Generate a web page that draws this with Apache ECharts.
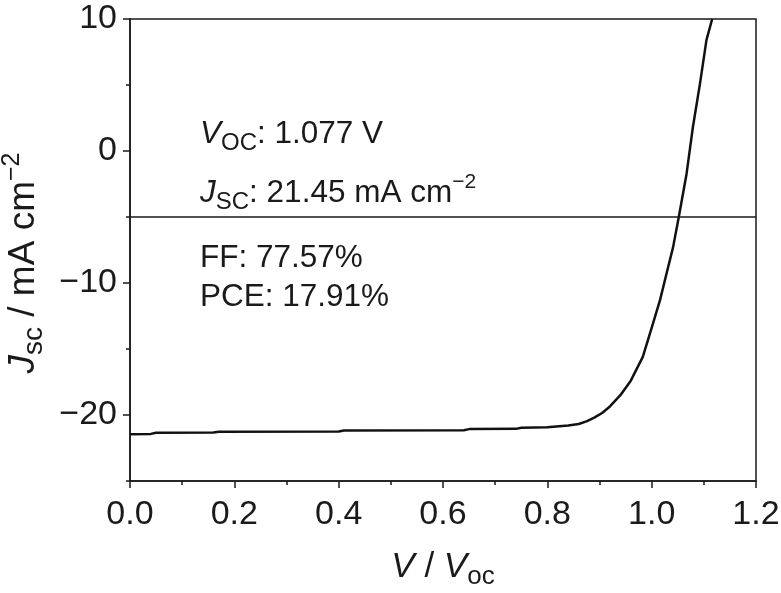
<!DOCTYPE html>
<html>
<head>
<meta charset="utf-8">
<script src="https://cdn.jsdelivr.net/npm/echarts@6/dist/echarts.min.js"></script>
<style>html,body{margin:0;padding:0;background:#fff;}#chart{width:781px;height:593px;}</style>
</head>
<body>
<div id="chart"></div>
<script>
// V / Voc values
const voltage = [0, 0.04, 0.05, 0.16, 0.17, 0.40, 0.41, 0.64, 0.65, 0.74, 0.75, 0.80, 0.84, 0.86, 0.875, 0.89, 0.905, 0.92, 0.94, 0.96, 0.983, 1.0, 1.016, 1.029, 1.041, 1.052, 1.067, 1.079, 1.093, 1.105, 1.116];
// current density (mA cm^-2)
const current = [-21.45, -21.43, -21.35, -21.33, -21.27, -21.25, -21.17, -21.15, -21.07, -21.05, -20.97, -20.93, -20.8, -20.68, -20.48, -20.2, -19.85, -19.35, -18.5, -17.4, -15.6, -13.4, -11.3, -9.2, -7.3, -5.0, -1.7, 1.8, 5.2, 8.4, 10.0];
const refLineY = -5;
const yTickLabels = [10, 0, -10, -20];
const xTickLabels = [0.0, 0.2, 0.4, 0.6, 0.8, 1.0, 1.2];
const annotations = [
  '{i|V}{sub|OC}: 1.077 V',
  '{i|J}{sub|SC}: 21.45 mA cm{sup|−2}',
  'FF: 77.57%',
  'PCE: 17.91%'
];

const FONT = '"Liberation Sans", Arial, Helvetica, sans-serif';
const INK = '#1a1a1a';
const chart = echarts.init(document.getElementById('chart'), null, {renderer: 'canvas'});

const series = voltage.map((v, i) => [v, current[i]]);

const annTop = [134, 193, 258, 297];
const graphics = annotations.map((t, i) => ({
  type: 'text', left: 200, top: annTop[i] - 21, silent: true,
  style: {
    text: t, fill: INK, fontFamily: FONT, fontSize: 31.5, lineHeight: 42,
    rich: {
      i: {fontStyle: 'italic', fontSize: 31.5, fontFamily: FONT, fill: INK},
      sub: {fontSize: 24, fontFamily: FONT, verticalAlign: 'bottom', lineHeight: 42, fill: INK},
      sup: {fontSize: 21, fontFamily: FONT, verticalAlign: 'top', lineHeight: 42, fill: INK}
    }
  }
}));

chart.setOption({
  animation: false,
  backgroundColor: '#fff',
  grid: {left: 130, right: 25, top: 19, bottom: 112, containLabel: false, outerBoundsMode: 'none',
    show: true, borderColor: INK, borderWidth: 1.5, backgroundColor: 'transparent'},
  xAxis: {
    type: 'value', min: 0, max: 1.2, interval: 0.2,
    name: '{i|V} / {i|V}{sub|oc}', nameLocation: 'middle', nameGap: 63,
    nameTextStyle: {
      color: INK, fontFamily: FONT, fontSize: 35, lineHeight: 46,
      rich: {
        i: {fontStyle: 'italic', fontSize: 35, fontFamily: FONT, color: INK},
        sub: {fontSize: 26, fontFamily: FONT, verticalAlign: 'bottom', lineHeight: 46, color: INK}
      }
    },
    axisLine: {show: true, onZero: false, lineStyle: {color: INK, width: 1.5}},
    axisTick: {show: true, inside: false, length: 7, lineStyle: {color: INK, width: 1.5}},
    minorTick: {show: true, splitNumber: 2, length: 4, lineStyle: {color: INK, width: 1.5}},
    axisLabel: {color: INK, fontFamily: FONT, fontSize: 34, margin: 17,
      formatter: v => (xTickLabels.some(t => Math.abs(t - v) < 1e-6) ? v.toFixed(1) : '')},
    splitLine: {show: false}
  },
  yAxis: [{
    type: 'value', min: -25, max: 10, interval: 5,
    name: '{i|J}{sub|sc} / mA cm{sup|−2}', nameLocation: 'middle', nameGap: 82, nameRotate: 90,
    nameTextStyle: {
      color: INK, fontFamily: FONT, fontSize: 37, lineHeight: 48, padding: [0, 26, 0, 0],
      rich: {
        i: {fontStyle: 'italic', fontSize: 37, fontFamily: FONT, color: INK},
        sub: {fontSize: 28, fontFamily: FONT, verticalAlign: 'bottom', lineHeight: 48, color: INK},
        sup: {fontSize: 25, fontFamily: FONT, verticalAlign: 'top', lineHeight: 48, color: INK}
      }
    },
    axisLine: {show: true, onZero: false, lineStyle: {color: INK, width: 1.5}},
    axisTick: {show: true, inside: false, length: 7, customValues: yTickLabels, lineStyle: {color: INK, width: 1.5}},
    axisLabel: {color: INK, fontFamily: FONT, fontSize: 34, margin: 13, customValues: yTickLabels,
      formatter: v => (v < 0 ? '−' + Math.abs(v) : String(v))},
    splitLine: {show: false}
  }, {
    type: 'value', min: -25, max: 10, interval: 5, position: 'left',
    axisLine: {show: false},
    axisTick: {show: true, inside: false, length: 4, lineStyle: {color: INK, width: 1.5}},
    axisLabel: {show: false},
    splitLine: {show: false}
  }],
  series: [{
    type: 'line', data: series, yAxisIndex: 0, showSymbol: false, symbol: 'none', smooth: false,
    lineStyle: {color: '#111', width: 2.5},
    markLine: {
      silent: true, symbol: 'none', label: {show: false},
      lineStyle: {color: INK, width: 1.5, type: 'solid'},
      data: [{yAxis: refLineY}]
    }
  }],
  graphic: graphics
});
</script>
</body>
</html>
